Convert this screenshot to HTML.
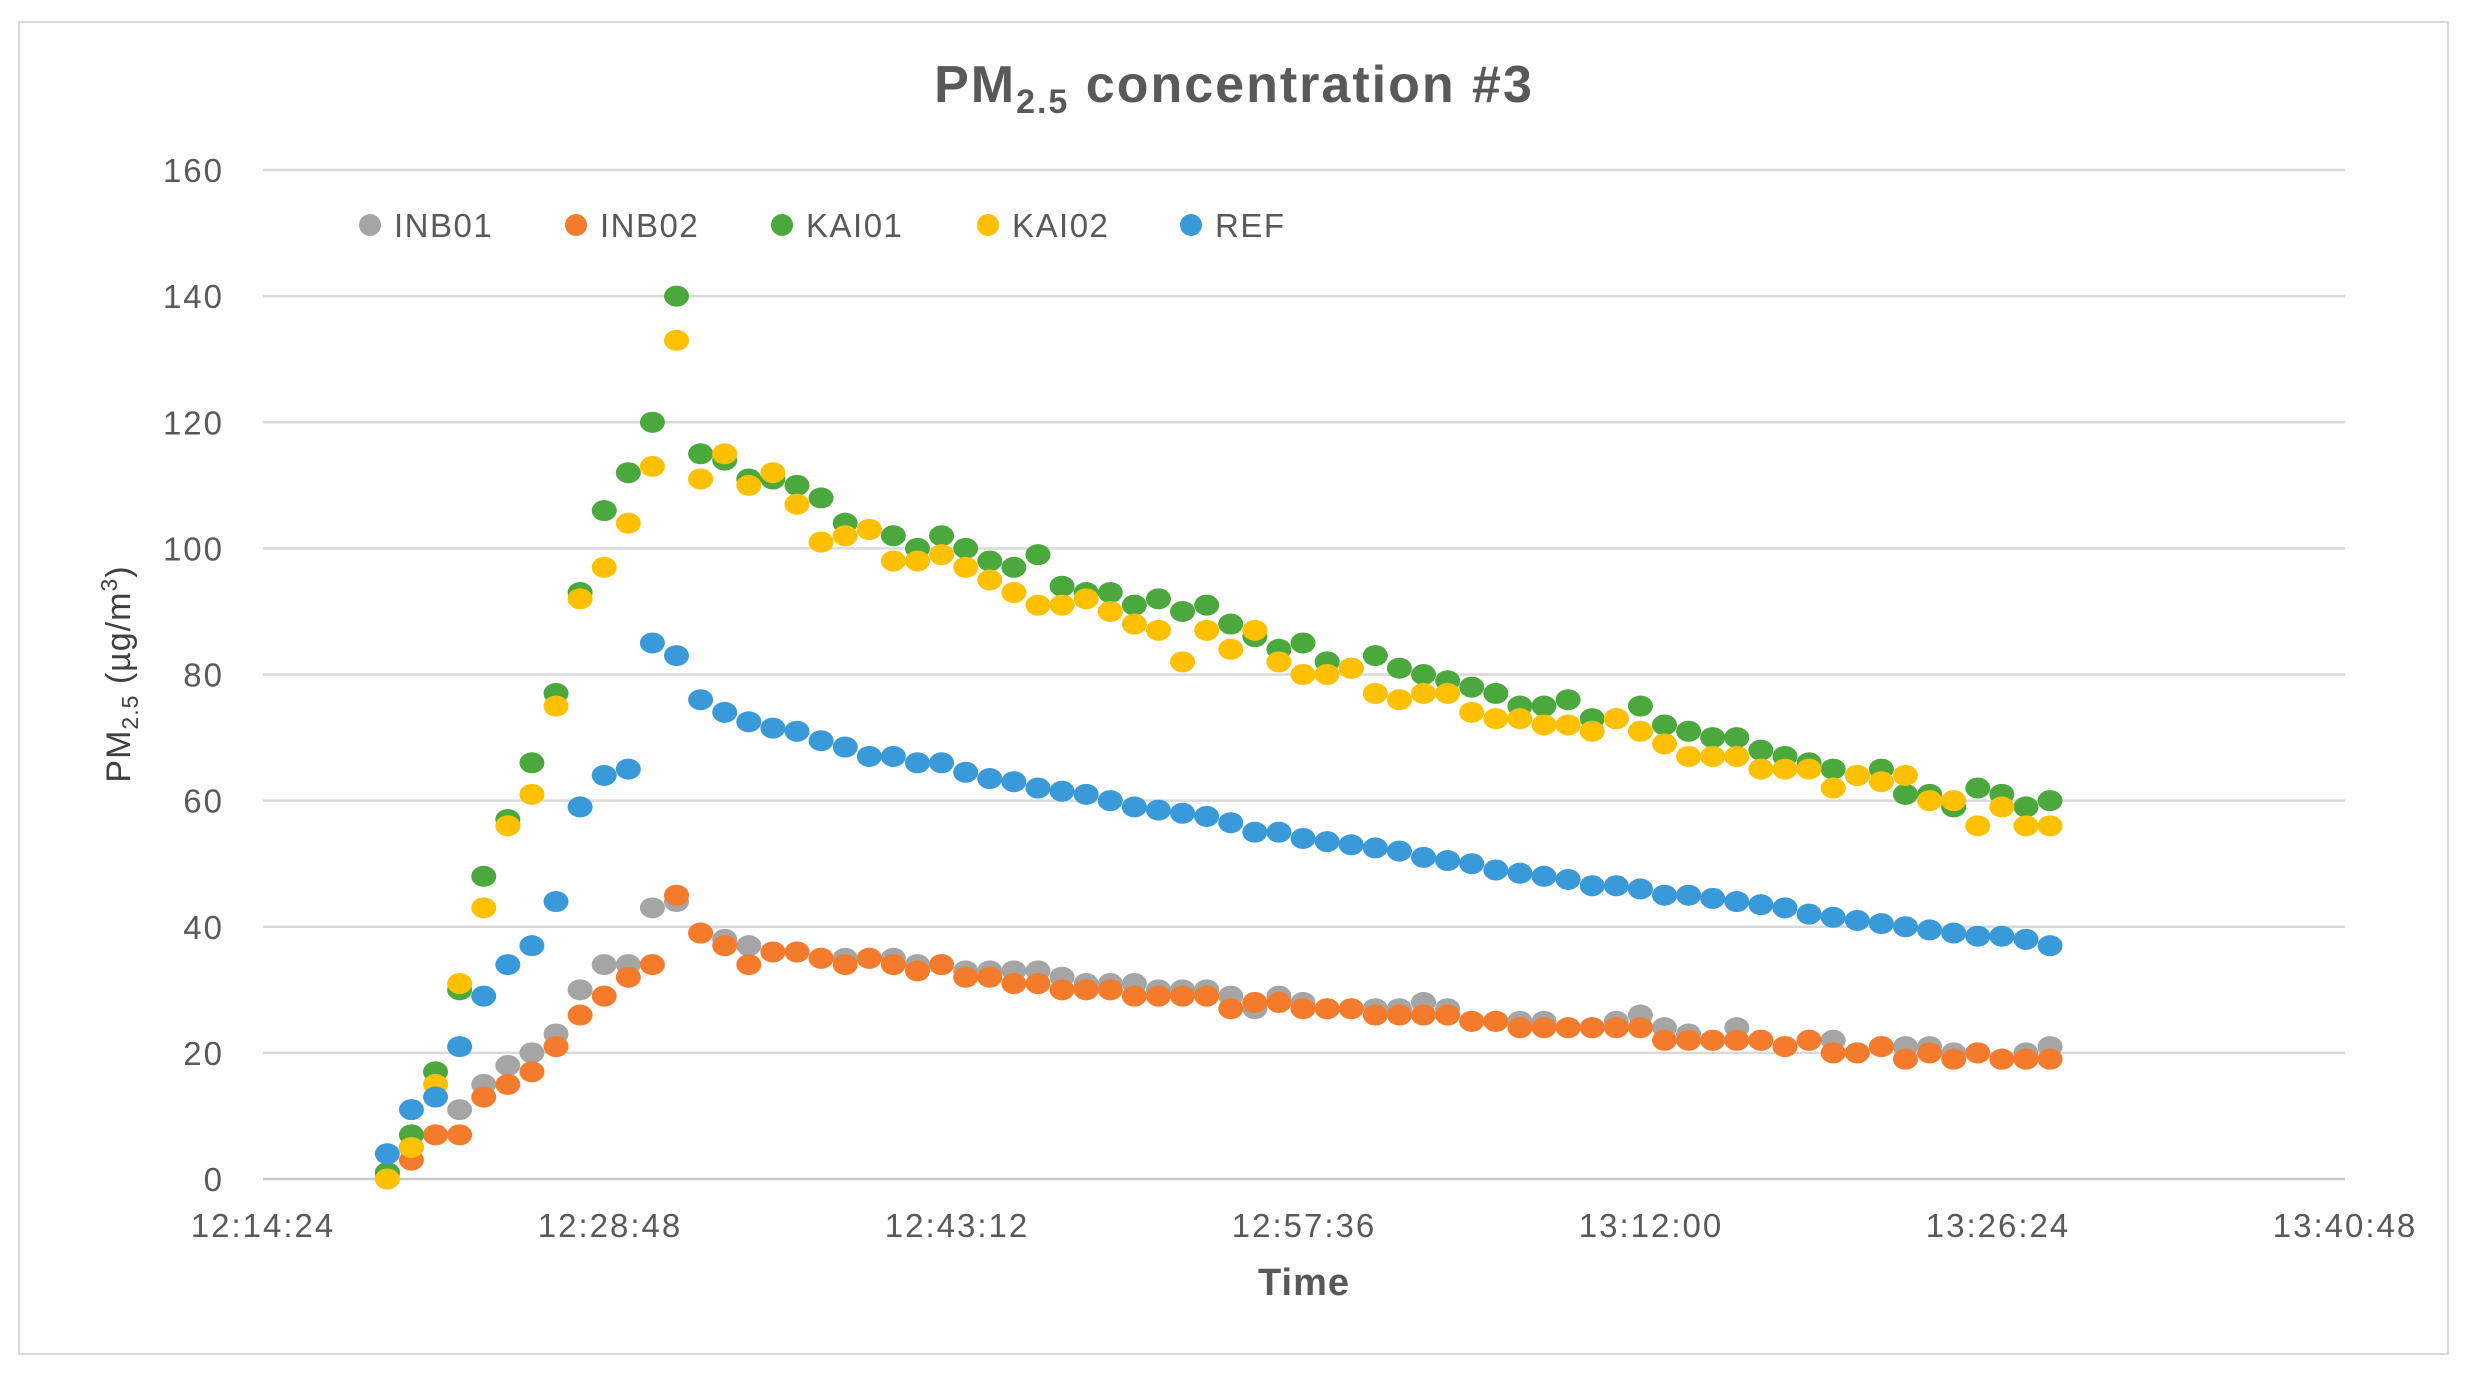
<!DOCTYPE html>
<html><head><meta charset="utf-8"><style>
html,body{margin:0;padding:0;background:#fff;}
svg{display:block;font-family:"Liberation Sans",sans-serif;}
</style></head><body>
<svg id="chart" width="2468" height="1373" viewBox="0 0 2468 1373">
<rect x="19" y="22" width="2429" height="1332" fill="#fff" stroke="#d9d9d9" stroke-width="2"/>
<text x="1234" y="102" text-anchor="middle" font-size="52" font-weight="bold" letter-spacing="2" fill="#595959">PM<tspan font-size="34" dy="11">2.5</tspan><tspan dy="-11"> concentration #3</tspan></text>
<g id="grid"></g><g id="yticks"></g><g id="xticks"></g><g id="marks"></g>
<text x="1304" y="1295" text-anchor="middle" font-size="38" font-weight="bold" letter-spacing="1" fill="#595959">Time</text>
<text transform="translate(130,674) rotate(-90)" text-anchor="middle" font-size="34" letter-spacing="1" fill="#404040">PM<tspan font-size="23" dy="8">2.5</tspan><tspan dy="-8"> (µg/m</tspan><tspan font-size="23" dy="-13">3</tspan><tspan dy="13">)</tspan></text>
<g id="legend"></g>
</svg>
<script>
const seriesNames=["INB01","INB02","KAI01","KAI02","REF"];
const seriesColors=["#a5a5a5","#f47b2c","#4aa83c","#ffc000","#3a9ad9"];
const yTicks=[0,20,40,60,80,100,120,140,160];
const xTickLabels=["12:14:24","12:28:48","12:43:12","12:57:36","13:12:00","13:26:24","13:40:48"];
const xTickMinutes=[0,14.4,28.8,43.2,57.6,72,86.4];
const startMinute=5.16;
const inb01=[1,5,7,11,15,18,20,23,30,34,34,43,44,39,38,37,36,36,35,35,35,35,34,34,33,33,33,33,32,31,31,31,30,30,30,29,27,29,28,27,27,27,27,28,27,25,25,25,25,24,24,25,26,24,23,22,24,22,21,22,22,20,21,21,21,20,20,19,20,21];
const inb02=[1,3,7,7,13,15,17,21,26,29,32,34,45,39,37,34,36,36,35,34,35,34,33,34,32,32,31,31,30,30,30,29,29,29,29,27,28,28,27,27,27,26,26,26,26,25,25,24,24,24,24,24,24,22,22,22,22,22,21,22,20,20,21,19,20,19,20,19,19,19];
const kai01=[1,7,17,30,48,57,66,77,93,106,112,120,140,115,114,111,111,110,108,104,103,102,100,102,100,98,97,99,94,93,93,91,92,90,91,88,86,84,85,82,81,83,81,80,79,78,77,75,75,76,73,73,75,72,71,70,70,68,67,66,65,64,65,61,61,59,62,61,59,60];
const kai02=[0,5,15,31,43,56,61,75,92,97,104,113,133,111,115,110,112,107,101,102,103,98,98,99,97,95,93,91,91,92,90,88,87,82,87,84,87,82,80,80,81,77,76,77,77,74,73,73,72,72,71,73,71,69,67,67,67,65,65,65,62,64,63,64,60,60,56,59,56,56];
const ref=[4,11,13,21,29,34,37,44,59,64,65,85,83,76,74,72.5,71.5,71,69.5,68.5,67,67,66,66,64.5,63.5,63,62,61.5,61,60,59,58.5,58,57.5,56.5,55,55,54,53.5,53,52.5,52,51,50.5,50,49,48.5,48,47.5,46.5,46.5,46,45,45,44.5,44,43.5,43,42,41.5,41,40.5,40,39.5,39,38.5,38.5,38,37];
const allSeries=[inb01,inb02,kai01,kai02,ref];
const X0=263,X1=2345,Y0=1179,Y1=170,XMAX=86.4,YMAX=160;
const xs=m=>X0+(X1-X0)*m/XMAX;
const ys=v=>Y0-(Y0-Y1)*v/YMAX;
const NS="http://www.w3.org/2000/svg";
function mk(tag,parent){const e=document.createElementNS(NS,tag);document.getElementById(parent).appendChild(e);return e;}
yTicks.forEach(t=>{
  const l=mk("line","grid");
  
  
  l.setAttribute("x1",X0);l.setAttribute("x2",X1);l.setAttribute("y1",ys(t));l.setAttribute("y2",ys(t));
  l.setAttribute("stroke",t===0?"#c8c8c8":"#d9d9d9");l.setAttribute("stroke-width","2.5");
  const tx=mk("text","yticks");
  
  
  tx.setAttribute("x",224);tx.setAttribute("y",ys(t)+12);tx.setAttribute("text-anchor","end");
  tx.setAttribute("font-size","33");tx.setAttribute("letter-spacing","2");tx.setAttribute("fill","#595959");tx.textContent=t;
});
xTickLabels.forEach((lab,i)=>{
  const tx=mk("text","xticks");
  
  
  tx.setAttribute("x",xs(xTickMinutes[i]));tx.setAttribute("y",1237);tx.setAttribute("text-anchor","middle");
  tx.setAttribute("font-size","33");tx.setAttribute("letter-spacing","2");tx.setAttribute("fill","#595959");tx.textContent=lab;
});
allSeries.forEach((arr,s)=>{
  arr.forEach((v,i)=>{
    const c=mk("ellipse","marks");
    
    
    c.setAttribute("cx",xs(startMinute+i));c.setAttribute("cy",ys(v));
    c.setAttribute("rx",12.5);c.setAttribute("ry",10.5);c.setAttribute("fill",seriesColors[s]);
  });
});
const legX=[370,576,782,988,1191];
seriesNames.forEach((n,s)=>{
  const c=mk("circle","legend");
  
  
  c.setAttribute("cx",legX[s]);c.setAttribute("cy",225);c.setAttribute("r",11);c.setAttribute("fill",seriesColors[s]);
  const t=mk("text","legend");
  
  
  t.setAttribute("x",legX[s]+24);t.setAttribute("y",237);t.setAttribute("font-size","33");t.setAttribute("letter-spacing","1.5");t.setAttribute("fill","#595959");t.textContent=n;
});
</script>
</body></html>
